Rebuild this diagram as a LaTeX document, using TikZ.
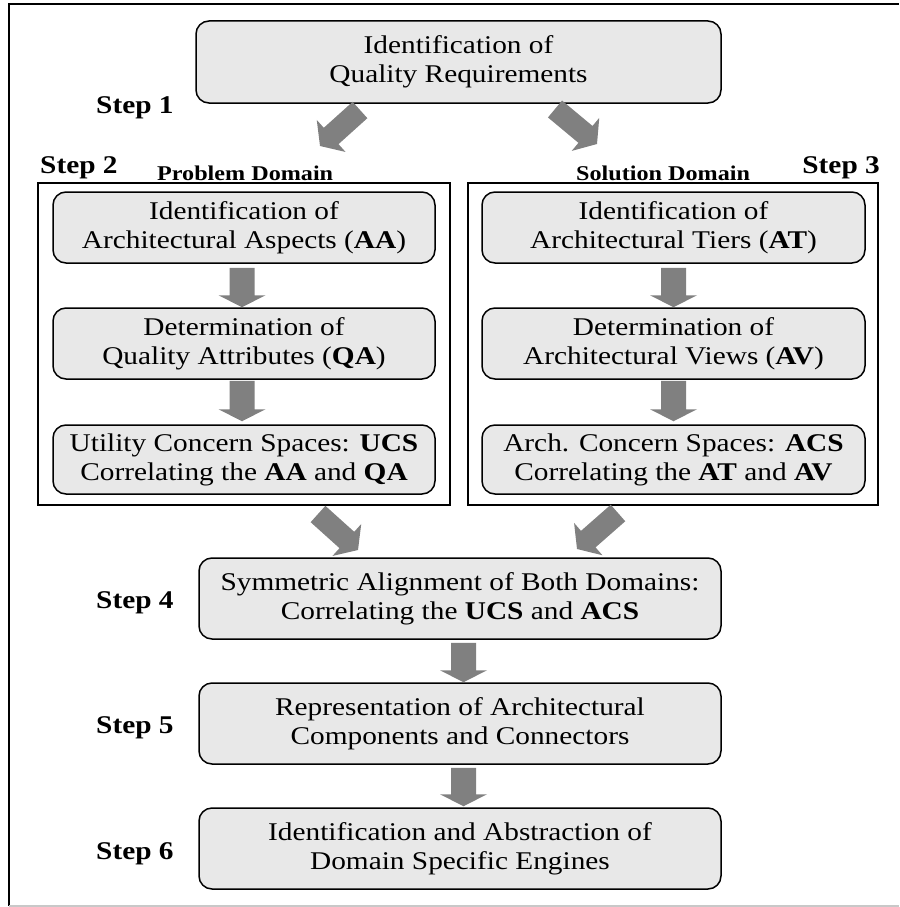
\documentclass[tikz,border=0pt]{standalone}
\usepackage{fontspec}
\setmainfont{Liberation Serif}[FakeStretch=1.15]
\usetikzlibrary{calc}

\definecolor{boxfill}{RGB}{232,232,232}
\definecolor{arrowfill}{RGB}{128,128,128}
\definecolor{edgegray}{RGB}{200,200,200}

% Block arrow: #1 tail, #2 tip, #3 shaft half-width, #4 head half-width, #5 head length
\newcommand{\blockarrow}[5]{%
  \path coordinate (ba-h) at ($(#2)!#5!(#1)$);
  \fill[arrowfill]
    ($(#1)!#3!90:(#2)$) -- ($(ba-h)!#3!90:(#2)$) -- ($(ba-h)!#4!90:(#2)$) --
    (#2) --
    ($(ba-h)!#4!-90:(#2)$) -- ($(ba-h)!#3!-90:(#2)$) -- ($(#1)!#3!-90:(#2)$) -- cycle;
}
\newcommand{\vflowarrow}[2]{\blockarrow{#1}{#2}{12.5pt}{23.5pt}{12pt}}
\newcommand{\dflowarrow}[2]{\blockarrow{#1}{#2}{11pt}{21.5pt}{15pt}}

\tikzset{
  stepbox/.style={draw, line width=1.5pt, fill=boxfill, rounded corners=13pt,
    align=center, inner sep=2pt,
    font=\fontsize{25.5}{29}\selectfont},
  domainframe/.style={draw, line width=1.5pt, inner sep=0pt},
  steplabel/.style={inner sep=0pt, font=\fontsize{25.5}{29}\selectfont\bfseries},
  domainlabel/.style={inner sep=0pt, font=\fontsize{21}{25}\selectfont\bfseries},
}

\begin{document}
\begin{tikzpicture}[x=1pt, y=-1pt]
  \useasboundingbox (0,0) rectangle (899,907);

  % outer frame
  \draw[line width=2.2pt] (9,906) -- (9,4) -- (899,4);
  \draw[edgegray, line width=2pt] (9,906) -- (899,906);

  % step 1
  \node[stepbox, minimum width=525pt, minimum height=82pt] (req) at (458.5,62)
    {Identification of\\Quality Requirements};
  \node[steplabel, anchor=base west] (s1) at (96,113) {Step 1};

  % domain frames
  \node[domainframe, minimum width=412pt, minimum height=322pt] (pd) at (244,344) {};
  \node[domainframe, minimum width=410pt, minimum height=322pt] (sd) at (673,344) {};
  \node[steplabel, anchor=base west] (s2) at (40,173) {Step 2};
  \node[steplabel, anchor=base east] (s3) at (880,173) {Step 3};
  \node[domainlabel, anchor=base west] (pdl) at (157,180) {Problem Domain};
  \node[domainlabel, anchor=base west] (sdl) at (576,180) {Solution Domain};

  % problem domain
  \node[stepbox, minimum width=382pt, minimum height=71pt] (aa) at (244,227.5)
    {Identification of\\Architectural Aspects (\textbf{AA})};
  \node[stepbox, minimum width=382pt, minimum height=71pt] (qa) at (244,343.5)
    {Determination of\\Quality Attributes (\textbf{QA})};
  \node[stepbox, minimum width=382pt, minimum height=69pt] (ucs) at (244,459.5)
    {Utility Concern Spaces: \textbf{UCS}\\Correlating the \textbf{AA} and \textbf{QA}};

  % solution domain
  \node[stepbox, minimum width=383pt, minimum height=71pt] (at) at (673.5,227.5)
    {Identification of\\Architectural Tiers (\textbf{AT})};
  \node[stepbox, minimum width=383pt, minimum height=71pt] (av) at (673.5,343.5)
    {Determination of\\Architectural Views (\textbf{AV})};
  \node[stepbox, minimum width=383pt, minimum height=69pt] (acs) at (673.5,459.5)
    {Arch. Concern Spaces: \textbf{ACS}\\Correlating the \textbf{AT} and \textbf{AV}};

  % steps 4 to 6
  \node[stepbox, minimum width=522pt, minimum height=81pt] (align) at (460,598.5)
    {Symmetric Alignment of Both Domains:\\Correlating the \textbf{UCS} and \textbf{ACS}};
  \node[stepbox, minimum width=522pt, minimum height=81pt] (repr) at (460,723.5)
    {Representation of Architectural\\Components and Connectors};
  \node[stepbox, minimum width=522pt, minimum height=81pt] (eng) at (460,848.5)
    {Identification and Abstraction of\\Domain Specific Engines};
  \node[steplabel, anchor=base west] (s4) at (96,608) {Step 4};
  \node[steplabel, anchor=base west] (s5) at (96,733) {Step 5};
  \node[steplabel, anchor=base west] (s6) at (96,859) {Step 6};

  % diagonal flow arrows
  \coordinate (req-l) at (360,110);  \coordinate (pd-in) at (320,146);
  \coordinate (req-r) at (555,109);  \coordinate (sd-in) at (597,144);
  \coordinate (pd-out) at (318,514); \coordinate (al-l) at (358,550);
  \coordinate (sd-out) at (618,513); \coordinate (al-r) at (577,549);
  \dflowarrow{req-l}{pd-in}
  \dflowarrow{req-r}{sd-in}
  \dflowarrow{pd-out}{al-l}
  \dflowarrow{sd-out}{al-r}

  % vertical flow arrows
  \coordinate (aa-o) at ($(aa.south)+(-2,4)$);   \coordinate (qa-i) at ($(qa.north)+(-2,0)$);
  \coordinate (qa-o) at ($(qa.south)+(-2,1)$);   \coordinate (ucs-i) at ($(ucs.north)+(-2,-3)$);
  \coordinate (at-o) at ($(at.south)+(0,4)$);    \coordinate (av-i) at ($(av.north)+(0,0)$);
  \coordinate (av-o) at ($(av.south)+(0,1)$);    \coordinate (acs-i) at ($(acs.north)+(0,-3)$);
  \coordinate (al-o) at ($(align.south)+(3.5,3)$); \coordinate (re-i) at ($(repr.north)+(3.5,0)$);
  \coordinate (re-o) at ($(repr.south)+(3.5,3)$);  \coordinate (en-i) at ($(eng.north)+(3.5,-1)$);
  \vflowarrow{aa-o}{qa-i}
  \vflowarrow{qa-o}{ucs-i}
  \vflowarrow{at-o}{av-i}
  \vflowarrow{av-o}{acs-i}
  \vflowarrow{al-o}{re-i}
  \vflowarrow{re-o}{en-i}
\end{tikzpicture}
\end{document}
